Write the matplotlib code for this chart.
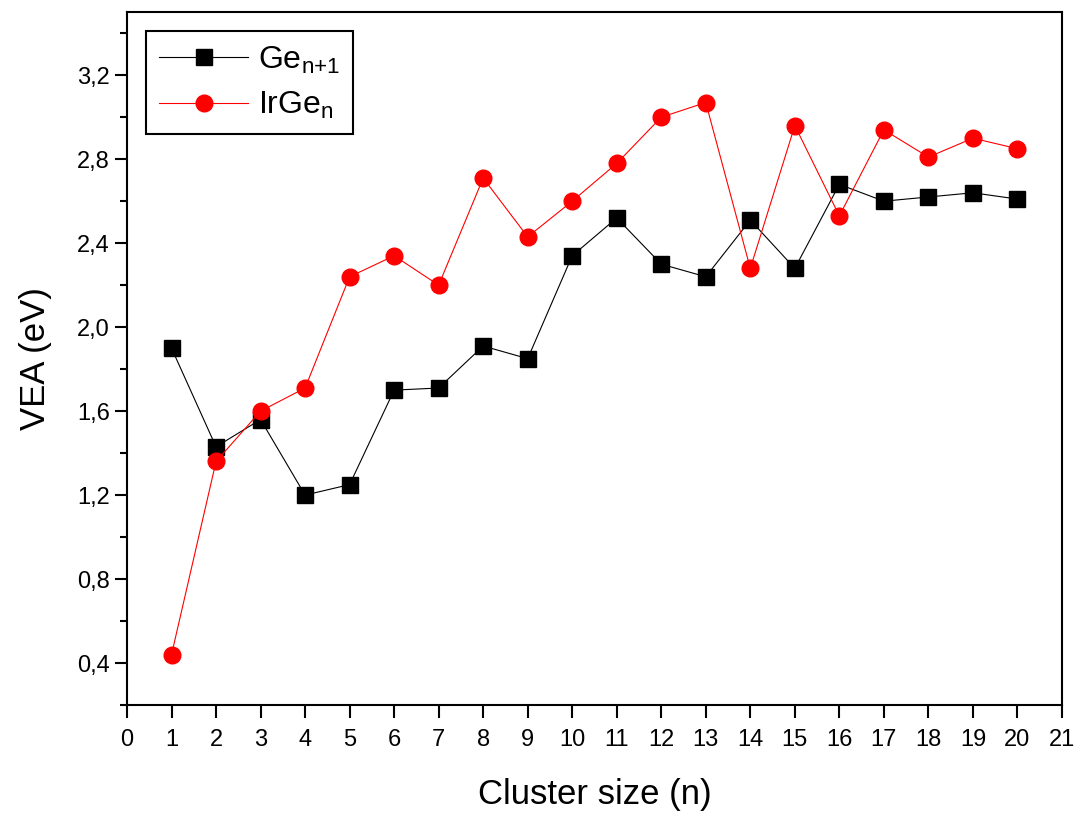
import matplotlib.pyplot as plt
from matplotlib.ticker import MultipleLocator, FuncFormatter

plt.rcParams['font.family'] = ['Liberation Sans', 'DejaVu Sans']
plt.rcParams['mathtext.fontset'] = 'custom'
plt.rcParams['mathtext.rm'] = 'Liberation Sans'

# Vertical electron affinity vs cluster size
n = list(range(1, 21))
vea_ge = [1.90, 1.43, 1.56, 1.20, 1.25, 1.70, 1.71, 1.91, 1.85, 2.34,
          2.52, 2.30, 2.24, 2.51, 2.28, 2.68, 2.60, 2.62, 2.64, 2.61]
vea_irge = [0.44, 1.36, 1.60, 1.71, 2.24, 2.34, 2.20, 2.71, 2.43, 2.60,
            2.78, 3.00, 3.07, 2.28, 2.96, 2.53, 2.94, 2.81, 2.90, 2.85]

fig = plt.figure(figsize=(10.79, 8.16), dpi=100)
ax = fig.add_axes([0.1177, 0.136, 0.8665, 0.849])

ax.plot(n, vea_ge, color='black', lw=0.8, marker='s', ms=11,
        label=r'Ge$_{\mathregular{n{+}1}}$')
ax.plot(n, vea_irge, color='red', lw=0.8, marker='o', ms=12,
        label=r'IrGe$_{\mathregular{n}}$')

ax.set_xlim(0, 21)
ax.set_ylim(0.2, 3.5)
ax.xaxis.set_major_locator(MultipleLocator(1))
ax.yaxis.set_major_locator(MultipleLocator(0.4))
ax.yaxis.set_minor_locator(MultipleLocator(0.2))
ax.yaxis.set_major_formatter(FuncFormatter(lambda v, p: f'{v:.1f}'.replace('.', ',')))

ax.tick_params(which='major', direction='out', length=9, width=1.5, labelsize=17)
ax.tick_params(which='minor', direction='out', length=5, width=1.5)
ax.tick_params(axis='x', pad=8)
for s in ax.spines.values():
    s.set_linewidth(1.5)

ax.set_xlabel('Cluster size (n)', fontsize=25, labelpad=20)
ax.set_ylabel('VEA (eV)', fontsize=25, labelpad=18)

leg = ax.legend(loc='upper left', fontsize=23, handlelength=2.8,
                handletextpad=0.3, fancybox=False, framealpha=1,
                edgecolor='black', borderpad=0.4, labelspacing=0.45,
                borderaxespad=0.6)
leg.get_frame().set_linewidth(1.5)

fig.savefig('out.png', dpi=100)
